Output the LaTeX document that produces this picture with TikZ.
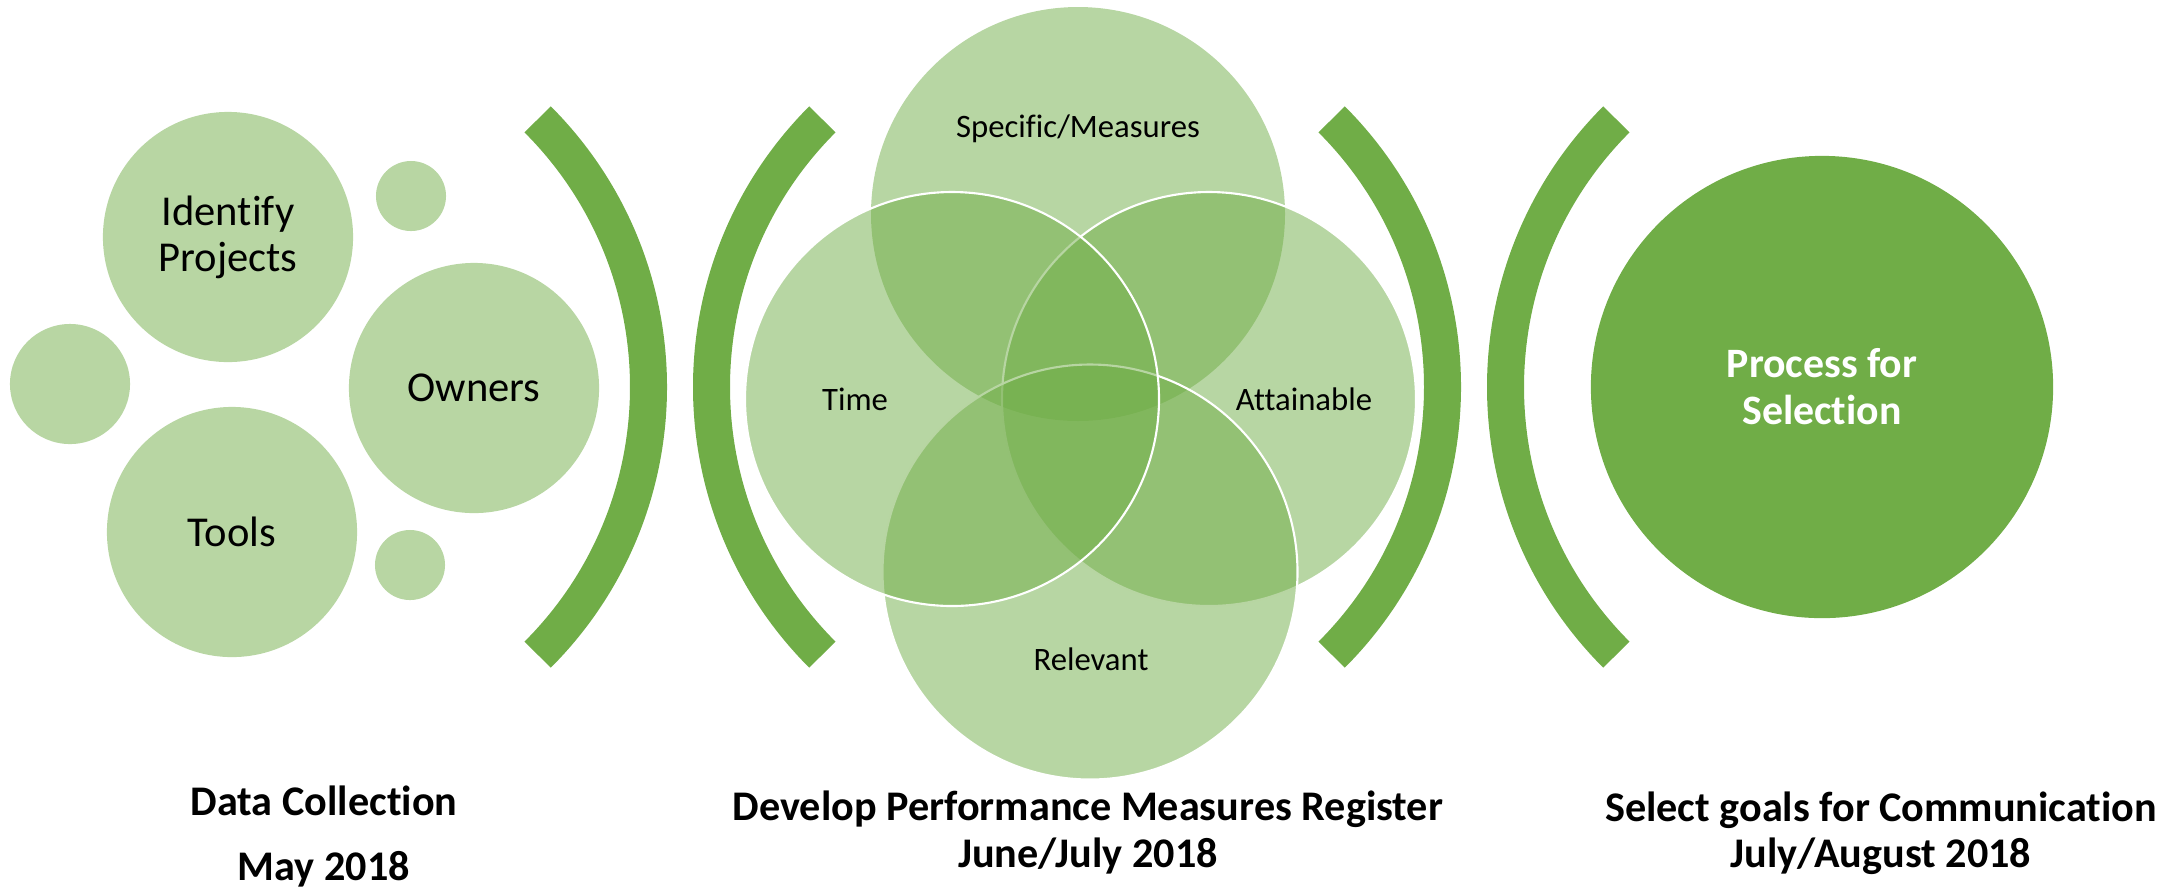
\documentclass[tikz,border=0pt]{standalone}
\usepackage{fontspec}
\setmainfont{Carlito}[Ligatures=NoCommon]
\usetikzlibrary{positioning}
\definecolor{leafgreen}{HTML}{70AD47}
\definecolor{palegreen}{HTML}{B8D6A3}

\begin{document}
\begin{tikzpicture}[x=0.01cm, y=-0.01cm,
  bubble/.style={circle, fill=palegreen, inner sep=0pt, align=center,
    font=\fontsize{12.1}{13.1}\selectfont},
  venn/.style={fill=leafgreen, fill opacity=0.5, draw=white, line width=0.6pt},
  vlabel/.style={anchor=base, font=\fontsize{9.3}{11}\selectfont},
  bracket/.style={draw=leafgreen, line width=0.37cm},
  caption/.style={anchor=base, font=\bfseries\fontsize{12}{13}\selectfont}]
  \useasboundingbox (0,0) rectangle (2182,887);

  % --- data collection: bubbles ---
  \node[bubble, minimum size=2.5cm] (ident) at (228,237) {Identify\\Projects};
  \node[bubble, minimum size=2.5cm] (owners) at (474,388) {Owners};
  \node[bubble, minimum size=2.5cm] (tools) at (232,532) {Tools};
  \node[bubble, minimum size=1.2cm] (dotL) at (70,384) {};
  \node[bubble, minimum size=0.7cm] (dotT) at (411,196) {};
  \node[bubble, minimum size=0.7cm] (dotB) at (410,565) {};

  % --- brackets round the middle and right stages ---
  \coordinate (b1) at (270,387);  \coordinate (b2) at (1090,387);
  \coordinate (b3) at (1064,387); \coordinate (b4) at (1884,387);
  \foreach \c in {b1,b3}
    \draw[bracket] (\c) ++(-45:378.5) arc[start angle=-45, end angle=45, radius=378.5];
  \foreach \c in {b2,b4}
    \draw[bracket] (\c) ++(135:378.5) arc[start angle=135, end angle=225, radius=378.5];

  % --- measures: four-way venn ---
  \coordinate (spec) at (1078,214);
  \coordinate (attain) at (1209,399);
  \coordinate (relev) at (1090,572);
  \coordinate (time) at (952,399);
  \fill[leafgreen, fill opacity=0.5] (spec) circle (207);
  \filldraw[venn] (attain) circle (207);
  \filldraw[venn] (relev) circle (207.5);
  \filldraw[venn] (time) circle (207);
  \node[vlabel] (lspec) at (1078,137) {Specific/Measures};
  \node[vlabel] (ltime) at (855,410) {Time};
  \node[vlabel] (lattain) at (1304,410) {Attainable};
  \node[vlabel] (lrelev) at (1091,670) {Relevant};

  % --- selection ---
  \node[circle, fill=leafgreen, inner sep=0pt, minimum size=4.62cm, text=white,
    align=center, font=\bfseries\fontsize{11.9}{13.4}\selectfont]
    (proc) at (1822,387) {Process for\\Selection};

  % --- stage captions ---
  \node[caption] (dc) at (324,815) {Data Collection};
  \node[caption] (dcdate) at (324,880) {May 2018};
  \node[caption] (dev) at (1088,820) {Develop Performance Measures Register};
  \node[caption] (devdate) at (1088,867) {June/July 2018};
  \node[caption] (sel) at (1881,821) {Select goals for Communication};
  \node[caption] (seldate) at (1881,867) {July/August 2018};
\end{tikzpicture}
\end{document}
